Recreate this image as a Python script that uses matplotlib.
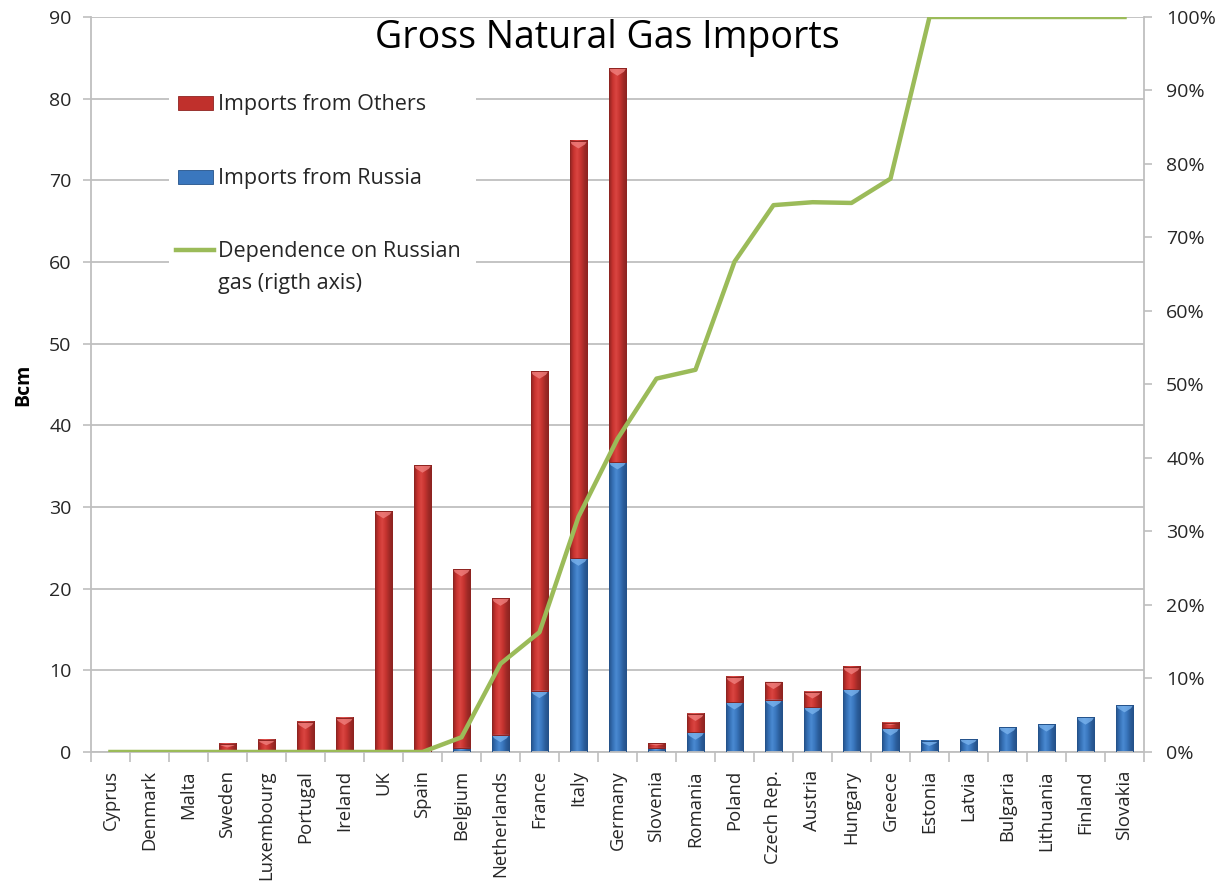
import numpy as np
import matplotlib
matplotlib.use('Agg')
import matplotlib.pyplot as plt
from matplotlib.colors import LinearSegmentedColormap
from matplotlib.patches import Rectangle, Polygon
from matplotlib.lines import Line2D

plt.rcParams['font.family'] = ['Open Sans', 'DejaVu Sans']

countries = ['Cyprus', 'Denmark', 'Malta', 'Sweden', 'Luxembourg', 'Portugal', 'Ireland',
             'UK', 'Spain', 'Belgium', 'Netherlands', 'France', 'Italy', 'Germany',
             'Slovenia', 'Romania', 'Poland', 'Czech Rep.', 'Austria', 'Hungary', 'Greece',
             'Estonia', 'Latvia', 'Bulgaria', 'Lithuania', 'Finland', 'Slovakia']

# Bcm
from_russia = [0, 0, 0, 0, 0, 0, 0,
               0, 0, 0.5, 2.1, 7.5, 23.7, 35.5,
               0.5, 2.4, 6.1, 6.4, 5.5, 7.7, 2.9,
               1.35, 1.55, 3.05, 3.4, 4.25, 5.75]
from_others = [0, 0, 0, 1.0, 1.5, 3.7, 4.2,
               29.5, 35.1, 21.9, 16.7, 39.1, 51.1, 48.2,
               0.55, 2.3, 3.1, 2.2, 1.9, 2.7, 0.7,
               0, 0, 0, 0, 0, 0]
# share of Russian gas, %
dependence = [0, 0, 0, 0, 0, 0, 0,
              0, 0, 2, 12, 16.3, 32, 42.6,
              50.8, 52, 66.7, 74.4, 74.8, 74.7, 78,
              100, 100, 100, 100, 100, 100]

RED = LinearSegmentedColormap.from_list('red_cyl', ['#8E2421', '#C8332F', '#DA4541', '#C73430', '#A22A27', '#8A2220'])
BLUE = LinearSegmentedColormap.from_list('blue_cyl', ['#24528A', '#3570B5', '#4A8AD2', '#3A77BE', '#2B5E9C', '#234F86'])
GREEN = '#9BBB59'
GRID = '#BFBFBF'
TXT = '#262626'

BAR_W = 0.44
grad = np.linspace(0, 1, 64).reshape(1, -1)


def cyl_bar(ax, x, bottom, height, cmap, hilite):
    if height <= 0:
        return
    x0, x1 = x - BAR_W / 2, x + BAR_W / 2
    top = bottom + height
    ax.imshow(grad, cmap=cmap, extent=[x0, x1, bottom, top], aspect='auto',
              interpolation='bilinear', zorder=2)
    d = min(0.9, height * 0.45)
    ax.add_patch(Polygon([(x0, top), (x1, top), (x1 - BAR_W * 0.12, top - d * 0.45),
                          (x, top - d), (x0 + BAR_W * 0.12, top - d * 0.45)],
                         closed=True, facecolor=hilite, edgecolor='none', alpha=0.75, zorder=3))
    ax.add_patch(Rectangle((x0, bottom), BAR_W, height, facecolor='none',
                           edgecolor=cmap(0.0), lw=0.7, zorder=3))


fig = plt.figure(figsize=(12.16, 8.85), dpi=100)
ax = fig.add_axes([0.0748, 0.1503, 0.866, 0.8305])

xs = np.arange(len(countries))
for i in xs:
    cyl_bar(ax, i, 0, from_russia[i], BLUE, '#7DB6F0')
    cyl_bar(ax, i, from_russia[i], from_others[i], RED, '#F28583')

ax.set_xlim(-0.5, len(countries) - 0.5)
ax.set_ylim(0, 90)
ax.set_yticks(range(0, 91, 10))
ax.yaxis.grid(True, color=GRID, lw=1.3)
ax.set_axisbelow(True)

ax.set_xticks(xs)
ax.set_xticklabels(countries, rotation=90, fontsize=13.3, color=TXT)
ax.set_xticks(np.arange(-0.5, len(countries), 1), minor=True)
ax.tick_params(axis='x', which='major', length=0, pad=13)
ax.tick_params(axis='x', which='minor', length=7, color=GRID, width=1.2)
ax.tick_params(axis='y', length=6, color=GRID, width=1.2, labelsize=14, labelcolor=TXT, pad=8)
ax.set_ylabel('Bcm', fontsize=14, fontweight='bold', color='black', labelpad=11)

for s in ['left', 'bottom']:
    ax.spines[s].set_color(GRID)
    ax.spines[s].set_linewidth(1.3)
ax.spines['top'].set_visible(False)
ax.spines['right'].set_visible(False)

ax2 = ax.twinx()
ax2.plot(xs, dependence, color=GREEN, lw=3.2, solid_joinstyle='round', zorder=4)
ax2.set_ylim(0, 100)
ax2.set_yticks(range(0, 101, 10))
ax2.set_yticklabels([f'{v}%' for v in range(0, 101, 10)])
ax2.tick_params(axis='y', length=6, color=GRID, width=1.2, labelsize=14, labelcolor=TXT, pad=10)
for s in ['left', 'top', 'bottom']:
    ax2.spines[s].set_visible(False)
ax2.spines['right'].set_color(GRID)
ax2.spines['right'].set_linewidth(1.3)

ax2.text(0.49, 0.971, 'Gross Natural Gas Imports', transform=ax2.transAxes,
         ha='center', va='center', fontsize=27, color='black')

# legend box
ax2.add_patch(Rectangle((0.074, 0.60), 0.292, 0.305, transform=ax2.transAxes,
                        facecolor='white', edgecolor='none', zorder=5))
ax2.add_patch(Rectangle((0.0826, 0.874), 0.033, 0.019, transform=ax2.transAxes,
                        facecolor='#C0302C', edgecolor='#8E2421', lw=0.6, zorder=6))
ax2.add_patch(Rectangle((0.0826, 0.773), 0.033, 0.019, transform=ax2.transAxes,
                        facecolor='#3A77BE', edgecolor='#24528A', lw=0.6, zorder=6))
ax2.add_line(Line2D([0.081, 0.117], [0.683, 0.683], transform=ax2.transAxes,
                    color=GREEN, lw=3.2, zorder=6))
ax2.text(0.1206, 0.881, 'Imports from Others', transform=ax2.transAxes,
         ha='left', va='center', fontsize=15.5, color=TXT, zorder=6)
ax2.text(0.1206, 0.780, 'Imports from Russia', transform=ax2.transAxes,
         ha='left', va='center', fontsize=15.5, color=TXT, zorder=6)
ax2.text(0.1206, 0.681, 'Dependence on Russian', transform=ax2.transAxes,
         ha='left', va='center', fontsize=15.5, color=TXT, zorder=6)
ax2.text(0.1206, 0.637, 'gas (rigth axis)', transform=ax2.transAxes,
         ha='left', va='center', fontsize=15.5, color=TXT, zorder=6)

fig.savefig('out.png', dpi=100)
